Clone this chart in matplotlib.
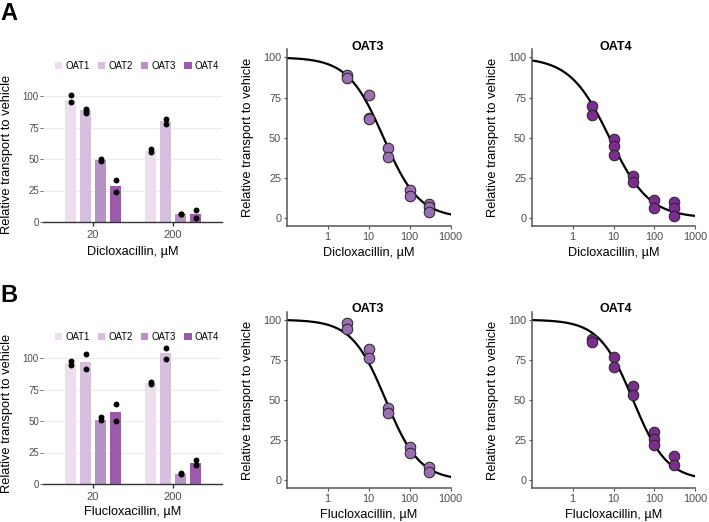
import numpy as np
import matplotlib
matplotlib.use("Agg")
import matplotlib.pyplot as plt
from matplotlib.patches import Patch

plt.rcParams['font.family'] = ['Liberation Sans', 'DejaVu Sans']

# ---------------- data ----------------
transporters = ["OAT1", "OAT2", "OAT3", "OAT4"]
conc_groups = ["20", "200"]

# Panel A bar chart (Dicloxacillin)
diclox_bar_20 = [97, 88.5, 49, 28.5]
diclox_bar_200 = [56.5, 80, 6, 6.5]
diclox_dots_20 = [[100.5, 95], [90, 88, 86.5], [50, 48.5], [33.5, 23.5]]
diclox_dots_200 = [[58, 55.5], [82, 78], [6, 6], [9.5, 3]]

# Panel B bar chart (Flucloxacillin)
fluclox_bar_20 = [96, 97, 51, 57]
fluclox_bar_200 = [80, 104, 8, 17]
fluclox_dots_20 = [[97.5, 94.5], [103, 91.5], [53, 50.5], [63.5, 50]]
fluclox_dots_200 = [[81, 79.5], [108, 99], [8.5, 8], [19, 15]]

# Dose-response points
diclox_oat3_dose = [3, 3, 10, 10, 10, 30, 30, 100, 100, 300, 300, 300]
diclox_oat3_resp = [89, 87, 76.5, 62.5, 61.5, 43.5, 38, 17.5, 13.5, 9, 7, 4]
diclox_oat4_dose = [3, 3, 10, 10, 10, 30, 30, 100, 100, 300, 300, 300]
diclox_oat4_resp = [70, 64, 49, 45, 39, 26, 22.5, 11, 6, 10, 6, 1.5]
fluclox_oat3_dose = [3, 3, 10, 10, 30, 30, 100, 100, 300, 300]
fluclox_oat3_resp = [98, 94, 82, 76, 45, 42, 21, 17, 8, 5]
fluclox_oat4_dose = [3, 3, 10, 10, 30, 30, 100, 100, 100, 300, 300]
fluclox_oat4_resp = [88, 86, 77, 70.5, 59, 53, 30, 26, 22, 15, 9.5]

# fitted curve parameters (IC50 in uM, Hill slope)
diclox_oat3_fit = (23, 1.0)
diclox_oat4_fit = (8, 0.9)
fluclox_oat3_fit = (26, 1.05)
fluclox_oat4_fit = (30, 1.05)

# ---------------- style ----------------
bar_colors = ["#ecdeed", "#d7bfde", "#b792c5", "#9c5aaa"]
oat3_color = "#9b6fb3"
oat4_color = "#7a2d8c"
tick_gray = "#4d4d4d"

W, H = 709, 522
fig = plt.figure(figsize=(W / 100, H / 100), dpi=100)


def add_axes_px(left, top, right, bottom):
    return fig.add_axes([left / W, 1 - bottom / H, (right - left) / W, (bottom - top) / H])


def bar_panel(left, bottom_px, ytop, bars20, bars200, dots20, dots200, xlabel, legend_y, xlab_off):
    height = 1.26 * ytop
    ax = add_axes_px(left, bottom_px - height, 222, bottom_px)
    spacing = 0.1875
    width = 0.13
    for gi, (bars, dots) in enumerate([(bars20, dots20), (bars200, dots200)]):
        for i in range(4):
            x = gi + 1 + (i - 1.5) * spacing
            ax.bar(x, bars[i], width=width, color=bar_colors[i], zorder=2)
            ax.scatter([x] * len(dots[i]), dots[i], s=18, color="black", zorder=3, linewidths=0)
    ax.set_xlim(0.375, 2.6125)
    ax.set_ylim(0, ytop)
    ax.set_yticks([0, 25, 50, 75, 100])
    ax.set_yticklabels(["0", "25", "50", "75", "100"])
    ax.set_xticks([1, 2])
    ax.set_xticklabels(conc_groups)
    ax.grid(axis="y", color="#ebebeb", linewidth=0.8, zorder=0)
    ax.set_axisbelow(True)
    for s in ["top", "right", "left"]:
        ax.spines[s].set_visible(False)
    ax.spines["bottom"].set_color("#333333")
    ax.spines["bottom"].set_linewidth(1.0)
    ax.tick_params(axis="y", length=2, width=0.6, colors="#555555", labelsize=7, pad=1,
                   labelcolor=tick_gray)
    ax.tick_params(axis="x", length=3, width=1.0, colors="#333333", labelsize=8, pad=3,
                   labelcolor=tick_gray)
    ax.set_xlabel(xlabel, fontsize=9.2, va="center")
    ax.xaxis.set_label_coords(0.5, -xlab_off / height)
    ax.set_ylabel("Relative transport to vehicle", fontsize=9.3, va="center")
    ax.yaxis.set_label_coords((7.5 - left) / (222 - left), 0.5)
    handles = [Patch(facecolor=c, edgecolor="none") for c in bar_colors]
    fig.legend(handles, transporters, loc="center", bbox_to_anchor=(137 / W, 1 - legend_y / H),
               ncol=4, frameon=False, fontsize=6.9, handlelength=0.8, handleheight=0.8,
               handletextpad=0.35, columnspacing=0.8, borderaxespad=0, borderpad=0)
    return ax


def curve_panel(left, right, bottom_px, dose, resp, fit, color, title, xlabel, xlab_off, title_x):
    height = 1.606 * 110
    ax = add_axes_px(left, bottom_px - height, right, bottom_px)
    ic50, hill = fit
    xs = np.logspace(-1, 3, 300)
    ax.plot(xs, 100 / (1 + (xs / ic50) ** hill), color="black", lw=1.6, zorder=2)
    ax.scatter(dose, resp, s=58, facecolor=color, edgecolor="#222222", linewidths=0.7, zorder=3)
    ax.set_xscale("log")
    ax.set_xlim(0.1, 1000)
    ax.set_ylim(-5, 105)
    ax.set_xticks([1, 10, 100, 1000])
    ax.set_xticklabels(["1", "10", "100", "1000"])
    ax.minorticks_off()
    ax.set_yticks([0, 25, 50, 75, 100])
    ax.set_yticklabels(["0", "25", "50", "75", "100"])
    for s in ["top", "right"]:
        ax.spines[s].set_visible(False)
    for s in ["left", "bottom"]:
        ax.spines[s].set_color("#555555")
        ax.spines[s].set_linewidth(1.1)
    ax.tick_params(length=2.5, width=0.8, colors="#555555", labelsize=7.8, pad=1.5,
                   labelcolor=tick_gray)
    ax.set_xlabel(xlabel, fontsize=9.2, va="center")
    ax.xaxis.set_label_coords(0.5, -xlab_off / height)
    ax.set_ylabel("Relative transport to vehicle", fontsize=9.3, va="center")
    ax.yaxis.set_label_coords(-38.5 / (right - left), 0.5)
    top_px = bottom_px - height
    fig.text(title_x / W, 1 - (top_px - 2.7) / H, title, fontsize=9, fontweight="bold",
             ha="center", va="center")
    return ax


# Row A
bar_panel(43, 222, 108, diclox_bar_20, diclox_bar_200, diclox_dots_20, diclox_dots_200,
          "Dicloxacillin, \u00b5M", 66, 30)
curve_panel(286.7, 450.7, 226, diclox_oat3_dose, diclox_oat3_resp, diclox_oat3_fit,
            oat3_color, "OAT3", "Dicloxacillin, \u00b5M", 27, 368)
curve_panel(531.7, 695.3, 226, diclox_oat4_dose, diclox_oat4_resp, diclox_oat4_fit,
            oat4_color, "OAT4", "Dicloxacillin, \u00b5M", 27, 616)

# Row B
bar_panel(43, 484, 112, fluclox_bar_20, fluclox_bar_200, fluclox_dots_20, fluclox_dots_200,
          "Flucloxacillin, \u00b5M", 337, 27.7)
curve_panel(286.7, 450.7, 488.3, fluclox_oat3_dose, fluclox_oat3_resp, fluclox_oat3_fit,
            oat3_color, "OAT3", "Flucloxacillin, \u00b5M", 26.7, 368)
curve_panel(531.7, 695.3, 488.3, fluclox_oat4_dose, fluclox_oat4_resp, fluclox_oat4_fit,
            oat4_color, "OAT4", "Flucloxacillin, \u00b5M", 26.7, 616)

fig.text(9 / W, 1 - 13 / H, "A", fontsize=17, fontweight="bold", ha="center", va="center")
fig.text(9 / W, 1 - 295 / H, "B", fontsize=17, fontweight="bold", ha="center", va="center")

fig.savefig("out.png", dpi=100)
